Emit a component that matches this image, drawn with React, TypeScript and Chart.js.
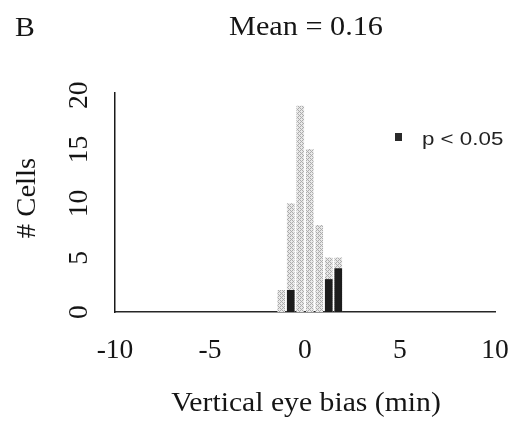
import React, { useEffect, useRef } from 'react';
import { Chart, registerables } from 'chart.js';

Chart.register(...registerables);

// Histogram of vertical eye bias (0.5 min bins)
const binCenters = [-1.25, -0.75, -0.25, 0.25, 0.75, 1.25, 1.75];
const allCells = [2, 10, 19, 15, 8, 5, 5];
const significantCells = [0, 2, 0, 0, 0, 3, 4];

const xTicks = [-10, -5, 0, 5, 10];
const yTicks = [0, 5, 10, 15, 20];

const panelLabel = 'B';
const titleText = 'Mean = 0.16';
const xTitle = 'Vertical eye bias (min)';
const yTitle = '# Cells';
const legendText = 'p < 0.05';

const SERIF = "'Liberation Serif', 'Times New Roman', serif";
const SANS = "'Liberation Sans', Arial, sans-serif";
const INK = '#151515';

type TextOpts = {
  size: number;
  family: string;
  align?: CanvasTextAlign;
  rotate?: number;
  sx?: number;
  color?: string;
};

function drawText(ctx: CanvasRenderingContext2D, text: string, x: number, y: number, o: TextOpts) {
  ctx.save();
  ctx.translate(x, y);
  if (o.rotate) ctx.rotate(o.rotate);
  ctx.scale(o.sx ?? 1, 1);
  ctx.font = `${o.size}px ${o.family}`;
  ctx.textAlign = o.align ?? 'center';
  ctx.textBaseline = 'alphabetic';
  ctx.fillStyle = o.color ?? INK;
  ctx.fillText(text, 0, 0);
  ctx.restore();
}

// light dotted fill used for the all-cells bars
function makeStipple(): CanvasPattern | string {
  const c = document.createElement('canvas');
  c.width = 4;
  c.height = 4;
  const g = c.getContext('2d');
  if (!g) return '#cfcfcf';
  g.fillStyle = '#e8e8e8';
  g.fillRect(0, 0, 4, 4);
  g.fillStyle = '#acacac';
  g.fillRect(0, 0, 1, 1);
  g.fillRect(2, 0, 1, 1);
  g.fillRect(1, 1, 1, 1);
  g.fillRect(0, 2, 1, 1);
  g.fillRect(2, 2, 1, 1);
  g.fillRect(3, 3, 1, 1);
  const p = g.createPattern(c, 'repeat');
  return p ?? '#cfcfcf';
}

const figureText = {
  id: 'figureText',
  afterDraw(chart: Chart) {
    const ctx = chart.ctx;
    const xs = chart.scales.x;
    const ys = chart.scales.y;
    const area = chart.chartArea;
    const midX = (area.left + area.right) / 2;

    drawText(ctx, panelLabel, 15, 36, { size: 27, family: SERIF, align: 'left', sx: 1.1 });
    drawText(ctx, titleText, midX + 1, 35, { size: 27, family: SERIF, sx: 1.12 });

    xTicks.forEach((v) => {
      drawText(ctx, String(v), xs.getPixelForValue(v), 358, { size: 27, family: SERIF, sx: 1.02 });
    });
    yTicks.forEach((v) => {
      drawText(ctx, String(v), 87, ys.getPixelForValue(v), {
        size: 27, family: SERIF, sx: 1.02, rotate: -Math.PI / 2,
      });
    });

    drawText(ctx, xTitle, midX + 1, 411, { size: 27, family: SERIF, sx: 1.1 });
    drawText(ctx, yTitle, 35, 198, { size: 27, family: SERIF, sx: 1.06, rotate: -Math.PI / 2 });

    // legend for the significant cells
    ctx.save();
    ctx.fillStyle = '#2a2a2a';
    ctx.fillRect(395, 133, 7, 8);
    ctx.restore();
    drawText(ctx, legendText, 422, 145, { size: 18, family: SANS, align: 'left', sx: 1.24, color: '#222' });
  },
};

export default function App() {
  const ref = useRef<HTMLCanvasElement | null>(null);

  useEffect(() => {
    if (!ref.current) return;
    const stipple = makeStipple();
    const sig = binCenters
      .map((x, i) => ({ x, y: significantCells[i] }))
      .filter((p) => p.y > 0);
    const all = binCenters.map((x, i) => ({ x, y: allCells[i] }));

    const chart = new Chart(ref.current, {
      type: 'bar',
      data: {
        datasets: [
          {
            label: legendText,
            data: sig,
            backgroundColor: '#1c1c1c',
            borderWidth: 0,
            barThickness: 7,
            grouped: false,
            order: 0,
          },
          {
            label: 'All cells',
            data: all,
            backgroundColor: stipple as any,
            borderWidth: 0,
            barThickness: 7,
            grouped: false,
            order: 1,
          },
        ],
      },
      options: {
        animation: false,
        responsive: false,
        maintainAspectRatio: false,
        events: [],
        layout: { padding: { left: 115, right: 23, top: 93, bottom: 117 } },
        plugins: {
          legend: { display: false },
          title: { display: false },
          tooltip: { enabled: false },
        },
        scales: {
          x: {
            type: 'linear',
            min: -10,
            max: 10,
            offset: false,
            grid: { display: false, drawTicks: false },
            border: { display: true, color: '#262626', width: 1.5 },
            ticks: { display: false },
          },
          y: {
            type: 'linear',
            min: 0,
            max: 20.2,
            grid: { display: false, drawTicks: false },
            border: { display: true, color: '#1a1a1a', width: 1.5 },
            ticks: { display: false },
          },
        },
      },
      plugins: [figureText],
    });
    return () => chart.destroy();
  }, []);

  return (
    <div style={{ position: 'fixed', left: 0, top: 0, width: 518, height: 429, background: '#fff' }}>
      <canvas ref={ref} width={518} height={429} style={{ display: 'block' }} />
    </div>
  );
}
